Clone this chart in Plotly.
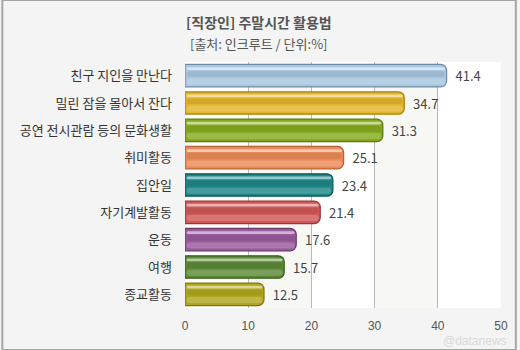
import plotly.graph_objects as go

categories = ["친구 지인을 만난다", "밀린 잠을 몰아서 잔다", "공연 전시관람 등의 문화생활",
              "취미활동", "집안일", "자기계발활동", "운동", "여행", "종교활동"]
values = [41.4, 34.7, 31.3, 25.1, 23.4, 21.4, 17.6, 15.7, 12.5]
colors = ["#a8c6e0", "#e2b52c", "#86aa1e", "#eb8a58", "#1f8787", "#d05858",
          "#9a5a9c", "#5c8a38", "#b0a61e"]
borders = ["#6f8ca6", "#a8820c", "#5a7a0c", "#b86030", "#0c5656", "#9c3434",
           "#663a6c", "#3a5c1c", "#7c760c"]
x_ticks = [0, 10, 20, 30, 40, 50]
title = "[직장인] 주말시간 활용법"
subtitle = "[출처: 인크루트 / 단위:%]"

FONT = "Noto Sans CJK KR"
fig = go.Figure()

# base bars
fig.add_trace(go.Bar(
    y=categories, x=values, orientation="h", width=0.82,
    marker=dict(color=colors, line=dict(color=borders, width=1.2), cornerradius=6),
    text=values, texttemplate="  %{x}", textposition="outside", cliponaxis=False,
    textfont=dict(family=FONT, size=13, color="#444444"),
    hoverinfo="skip"))
# glossy highlight stripe
fig.add_trace(go.Bar(
    y=categories, x=[v - 0.5 for v in values], base=0.25, orientation="h", width=0.1,
    offset=-0.31,
    marker=dict(color="rgba(255,255,255,0.55)", line=dict(width=0), cornerradius=3),
    hoverinfo="skip"))
# lower lighter zone
fig.add_trace(go.Bar(
    y=categories, x=[v - 0.5 for v in values], base=0.25, orientation="h", width=0.22,
    offset=0.1,
    marker=dict(color="rgba(255,255,255,0.18)", line=dict(width=0), cornerradius=4),
    hoverinfo="skip"))
# darker middle shade
fig.add_trace(go.Bar(
    y=categories, x=[v - 0.5 for v in values], base=0.25, orientation="h", width=0.2,
    offset=-0.16,
    marker=dict(color="rgba(0,0,0,0.07)", line=dict(width=0), cornerradius=3),
    hoverinfo="skip"))

# alternating background bands
shapes = [dict(type="rect", xref="x", yref="paper", x0=0, x1=50, y0=0, y1=1,
               fillcolor="white", line=dict(width=0), layer="below")]
for a, b in [(10, 20), (30, 40)]:
    shapes.append(dict(type="rect", xref="x", yref="paper", x0=a, x1=b, y0=0, y1=1,
                       fillcolor="#f7f7f4", line=dict(width=0), layer="below"))
shapes.append(dict(type="rect", xref="paper", yref="paper", x0=-185/320, x1=1+15/320,
                   y0=-42/246, y1=1+62/246, fillcolor="rgba(0,0,0,0)",
                   line=dict(color="#a6a6a6", width=2), layer="below"))
fig.update_layout(shapes=shapes)

ph = 350 - 62 - 42
pw = 520 - 185 - 15

fig.update_layout(
    width=520, height=350,
    margin=dict(l=185, r=15, t=62, b=42),
    paper_bgcolor="#f4f4f4", plot_bgcolor="rgba(0,0,0,0)",
    barmode="overlay", showlegend=False,
    font=dict(family=FONT),
    xaxis=dict(range=[0, 50], tickvals=x_ticks, showgrid=True, gridcolor="#b8b8b8",
               gridwidth=1, zeroline=False, showline=False, ticks="",
               ticklabelstandoff=9,
               tickfont=dict(family="Liberation Sans", size=12, color="#555555")),
    yaxis=dict(autorange="reversed", showgrid=False, showline=False, ticks="",
               ticklabelstandoff=12,
               tickfont=dict(family=FONT, size=13, color="#333333")),
    annotations=[
        dict(text="<b>" + title + "</b>", x=(260 - 185) / pw, y=1 + (62 - 22) / ph,
             xref="paper", yref="paper", showarrow=False,
             font=dict(family=FONT, size=14, color="#555555"), xanchor="center", yanchor="middle"),
        dict(text=subtitle, x=(260 - 185) / pw, y=1 + (62 - 43) / ph,
             xref="paper", yref="paper", showarrow=False,
             font=dict(family=FONT, size=13, color="#555555"), xanchor="center", yanchor="middle"),
        dict(text="@datanews", x=50, y=-41 / ph, xref="x", yref="paper", showarrow=False,
             xanchor="right", yanchor="bottom", xshift=7, borderpad=0,
             font=dict(family="Liberation Sans", size=12, color="#d8d8d8")),
    ],
)

fig.write_html("out.html")
